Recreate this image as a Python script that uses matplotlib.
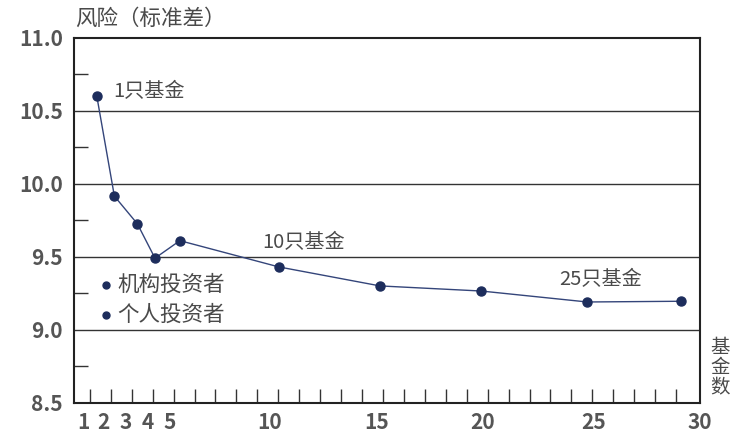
import matplotlib
matplotlib.use("Agg")
import matplotlib.pyplot as plt

plt.rcParams['font.family'] = ['Noto Sans CJK SC', 'DejaVu Sans']

# data
fundCount = [1.33, 2.17, 3.27, 4.11, 5.3, 10.03, 14.86, 19.7, 24.76, 29.24]
riskStd = [10.60, 9.915, 9.725, 9.49, 9.61, 9.43, 9.30, 9.265, 9.19, 9.195]

xTickLabels = ['1', '2', '3', '4', '5', '10', '15', '20', '25', '30']
xTickSpots = [0.67, 1.67, 2.71, 3.76, 4.81, 9.6, 14.7, 19.78, 25.05, 30.14]
yTicks = [8.5, 9.0, 9.5, 10.0, 10.5, 11.0]

navy = '#1d2d5c'
textGray = '#4a4a4a'

fig = plt.figure(figsize=(7.36, 4.46), dpi=100)
ax = fig.add_axes([0.1005, 0.097, 0.8505, 0.8185])

for y in yTicks[1:-1]:
    ax.axhline(y, color='#333333', linewidth=1.0, zorder=1)

ax.plot(fundCount, riskStd, color='#34457a', linewidth=1.0, zorder=2)
ax.plot(fundCount, riskStd, linestyle='none', marker='o', markersize=6.5,
        color=navy, zorder=3)

ax.set_xlim(0.24, 30.05)
ax.set_ylim(8.5, 11.0)

ax.set_xticks(xTickSpots, labels=xTickLabels)
ax.set_xticks(range(1, 30), minor=True)
ax.set_yticks(yTicks, labels=[f'{v:.1f}' for v in yTicks])
ax.set_yticks([8.75, 9.25, 9.75, 10.25, 10.75], minor=True)

ax.tick_params(axis='x', which='major', length=0, pad=7, labelsize=15,
               labelcolor='#555555')
ax.tick_params(axis='y', which='major', length=0, pad=8, labelsize=15,
               labelcolor='#555555')
ax.tick_params(axis='both', which='minor', direction='in', length=10,
               width=1.0, color='#333333')
for lbl in ax.get_xticklabels() + ax.get_yticklabels():
    lbl.set_fontweight('bold')

for side in ['left', 'bottom', 'right', 'top']:
    ax.spines[side].set_linewidth(1.5)
    ax.spines[side].set_color('#222222')

ax.text(2.1, 10.63, '1只基金', fontsize=14.5, color=textGray, va='center')
ax.text(9.24, 9.595, '10只基金', fontsize=14.5, color=textGray, va='center')
ax.text(23.4, 9.345, '25只基金', fontsize=14.5, color=textGray, va='center')

ax.plot([1.77], [9.305], marker='o', markersize=5, color=navy, clip_on=False)
ax.plot([1.77], [9.10], marker='o', markersize=5, color=navy, clip_on=False)
ax.text(2.3, 9.305, '机构投资者', fontsize=15.5, color=textGray, va='center')
ax.text(2.3, 9.10, '个人投资者', fontsize=15.5, color=textGray, va='center')

fig.text(0.102, 0.958, '风险（标准差）', fontsize=15.5, color=textGray, va='center')
fig.text(0.978, 0.175, '基\n金\n数', fontsize=14, color=textGray,
         ha='center', va='center', linespacing=0.95)

fig.savefig('out.png', dpi=100)
